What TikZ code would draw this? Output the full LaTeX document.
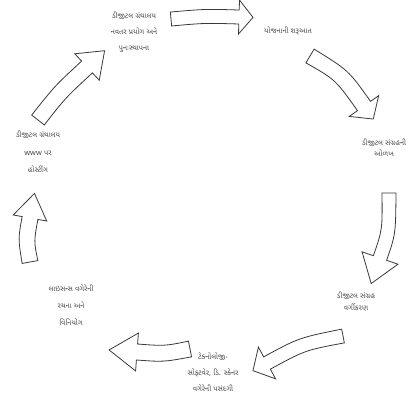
\documentclass[tikz,border=0pt]{standalone}
\usepackage{fontspec}
\newfontfamily\gujfont[Script=Gujarati]{Noto Sans Gujarati UI}
\newfontfamily\latinfont{Noto Sans}
\usetikzlibrary{calc}
\definecolor{txtgray}{HTML}{4A4A4A}
\definecolor{linegray}{HTML}{3A3A3A}
\tikzset{
  lbl/.style={font=\gujfont\fontsize{7.4}{16}\selectfont, text=txtgray, align=center, inner sep=0pt},
  blockarrow/.style={draw=linegray, line width=0.8pt, fill=white, line join=miter}
}
% #1 tail, #2 control, #3 head base, #4 half body width, #5 half head width, #6 tip length
\newcommand\blockarr[6]{%
  \draw[blockarrow]
    ($(#1)!#4!90:(#2)$)
    .. controls ($(#2)!#4!90:(#3)$) .. ($(#3)!#4!-90:(#2)$)
    -- ($(#3)!#5!-90:(#2)$)
    -- ($(#3)!-#6!(#2)$)
    -- ($(#3)!#5!90:(#2)$)
    -- ($(#3)!#4!90:(#2)$)
    .. controls ($(#2)!#4!-90:(#3)$) .. ($(#1)!#4!-90:(#2)$)
    -- cycle;}
\begin{document}
\begin{tikzpicture}[x=1pt,y=-1pt]
\path[use as bounding box, fill=white] (0,0) rectangle (414,404);

% arrow guide coordinates
\coordinate (a1t) at (171,19); \coordinate (a1c) at (205,16); \coordinate (a1h) at (239,17);
\coordinate (a2t) at (310,56); \coordinate (a2c) at (342,75); \coordinate (a2h) at (364,106);
\coordinate (a3t) at (389,193); \coordinate (a3c) at (389,232); \coordinate (a3h) at (380,258);
\coordinate (a4t) at (343,336); \coordinate (a4c) at (302,344); \coordinate (a4h) at (267,363);
\coordinate (a5t) at (190,349); \coordinate (a5c) at (164,354); \coordinate (a5h) at (137,352);
\coordinate (a6t) at (30,262); \coordinate (a6c) at (26,240); \coordinate (a6h) at (30,218);
\coordinate (a7t) at (38,120); \coordinate (a7c) at (60,92); \coordinate (a7h) at (87,67);

\blockarr{a1t}{a1c}{a1h}{7pt}{17pt}{14pt}
\blockarr{a2t}{a2c}{a2h}{8pt}{18pt}{16pt}
\blockarr{a3t}{a3c}{a3h}{7pt}{19pt}{27pt}
\blockarr{a4t}{a4c}{a4h}{7pt}{18pt}{16pt}
\blockarr{a5t}{a5c}{a5h}{8pt}{19pt}{28pt}
\blockarr{a6t}{a6c}{a6h}{8pt}{17pt}{25pt}
\blockarr{a7t}{a7c}{a7h}{8pt}{18pt}{24pt}

% text nodes
\node[lbl] (t1) at (134,32) {ડીજીટલ ગ્રંથાલય\\નવતર પ્રયોગ અને\\પુનઃસ્થાપના};
\node[lbl] (t2) at (288,31) {યોજનાની શરૂઆત};
\node[lbl, font=\gujfont\fontsize{7.4}{11}\selectfont] (t3) at (384,148) {ડીજીટલ સંગ્રહની\\ઓળખ};
\node[lbl, font=\gujfont\fontsize{7.4}{12}\selectfont] (t4) at (356,302) {ડીજીટલ સંગ્રહ\\વર્ગીકરણ};
\node[lbl] (t5) at (213,372) {ટેકનોલોજી{\latinfont -}\\સોફ્ટવેર{\latinfont ,} ડિ{\latinfont .} સ્કેનર\\વગેરેની પસંદગી};
\node[lbl, font=\gujfont\fontsize{7.4}{17}\selectfont] (t6) at (71,305) {લાઇસન્સ વગેરેની\\રચના અને\\વિનિયોગ};
\node[lbl, font=\gujfont\fontsize{7.4}{17.5}\selectfont] (t7) at (38,152) {ડીજીટલ ગ્રંથાલય\\{\latinfont www} પર\\હોસ્ટીંગ};
\end{tikzpicture}
\end{document}
